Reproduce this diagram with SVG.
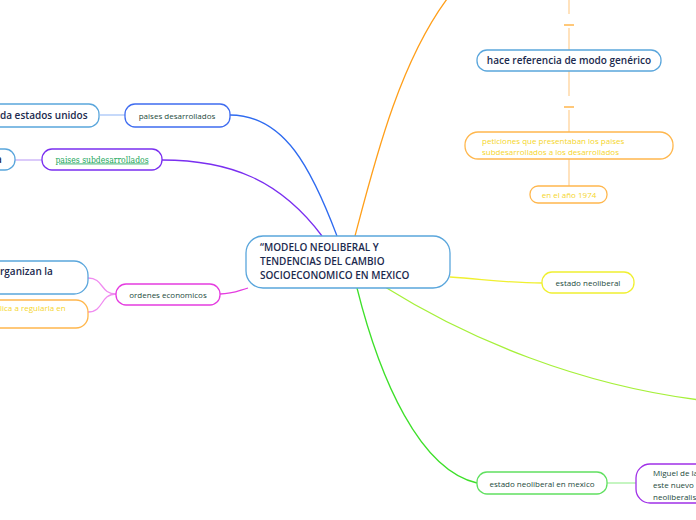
<svg xmlns="http://www.w3.org/2000/svg" width="696" height="520" viewBox="0 0 696 520">
<style>
text{font-family:"Open Sans","Noto Sans",sans-serif;}
.n{fill:#fff;stroke-width:1.3;}
.c{fill:none;stroke-width:1.3;}
.t{fill:#1d4a3c;font-size:8px;}
.b{fill:#1b2a4e;font-size:10px;font-weight:600;}
.y{fill:#f5d52a;font-size:8px;}
</style>
<g id="connectors">
<path class="c" d="M355,236 C375,160 400,60 450,-5" stroke="#ff9f1a"/>
<path class="c" d="M337,236 C312,170 285,115 230,115" stroke="#2f6bf0"/>
<path class="c" d="M322,236 C280,180 230,160 162,160" stroke="#7a2ff0"/>
<path class="c" d="M248,288 C235,292 232,294 220,294" stroke="#e53ce0"/>
<path class="c" d="M116,294 C100,294 104,278 88,278" stroke="#f08cf0" stroke-width="1"/>
<path class="c" d="M116,294 C100,294 104,312 88,312" stroke="#f08cf0" stroke-width="1"/>
<path class="c" d="M450,277 C490,280 510,283 542,283" stroke="#f0f030" stroke-width="1"/>
<path class="c" d="M385,287 C470,340 580,385 700,400" stroke="#a6f03a"/>
<path class="c" d="M357,288 C380,380 420,470 477,483" stroke="#3ee02a"/>
<path class="c" d="M100,115 H125" stroke="#a8c4f8"/>
<path class="c" d="M15,160 H42" stroke="#c8aef8"/>
<path class="c" d="M607,483 H636" stroke="#a6f0a0"/>
<path class="c" d="M569,0 V14 M569,28 V50 M569,71 V96 M569,110 V132 M569,159 V186" stroke="#ffd39a" stroke-width="1"/>
<path class="c" d="M564,25 H574 M564,107 H574" stroke="#ffb74d" stroke-width="1.5"/>
</g>
<g id="center">
<rect class="n" x="246" y="236" width="204" height="52" rx="17" stroke="#5aa6dc"/>
<text class="b" x="260" y="251">“MODELO NEOLIBERAL Y</text>
<text class="b" x="260" y="265">TENDENCIAS DEL CAMBIO</text>
<text class="b" x="260" y="279">SOCIOECONOMICO EN MEXICO</text>
</g>
<g id="hace">
<rect class="n" x="477" y="50" width="184" height="21" rx="10" stroke="#5aa6dc"/>
<text class="b" x="569" y="64" text-anchor="middle">hace referencia de modo genérico</text>
</g>
<g id="peticiones">
<rect class="n" x="465" y="132" width="208" height="27" rx="13" stroke="#ffb74d"/>
<text class="y" x="482" y="144">peticiones que presentaban los paises</text>
<text class="y" x="482" y="155">subdesarrollados a los desarrollados</text>
</g>
<g id="anio">
<rect class="n" x="530" y="186" width="77" height="17" rx="8" stroke="#ffb74d"/>
<text class="y" x="569" y="198" text-anchor="middle">en el año 1974</text>
</g>
<g id="desarrollados">
<rect class="n" x="125" y="104" width="105" height="23" rx="10" stroke="#3f6cf0"/>
<text class="t" x="177" y="118.5" text-anchor="middle">paises desarrollados</text>
</g>
<g id="eeuu">
<rect class="n" x="-20" y="104" width="119" height="23" rx="10" stroke="#5aa6dc"/>
<text class="b" x="0" y="119">da estados unidos</text>
</g>
<g id="subdesarrollados">
<rect class="n" x="42" y="149" width="120" height="21" rx="10" stroke="#7a2ff0"/>
<text x="102" y="162.5" text-anchor="middle" font-size="8.5" fill="#1aa65a" text-decoration="underline" style="font-family:'DejaVu Serif Condensed','DejaVu Serif',serif">paises subdesarrollados</text>
</g>
<g id="sub-hijo">
<rect class="n" x="-20" y="149" width="35" height="21" rx="10" stroke="#5aa6dc"/>
<text class="b" x="-4" y="163">a</text>
</g>
<g id="ordenes">
<rect class="n" x="116" y="284" width="104" height="21" rx="10" stroke="#e53ce0"/>
<text class="t" x="168" y="298" text-anchor="middle">ordenes economicos</text>
</g>
<g id="organizan">
<rect class="n" x="-20" y="261" width="108" height="33" rx="14" stroke="#5aa6dc"/>
<text class="b" x="0" y="275">rganizan la</text>
</g>
<g id="regularla">
<rect class="n" x="-20" y="300" width="108" height="28" rx="12" stroke="#ffb74d"/>
<text class="y" x="0" y="311">lica a regularla en</text>
</g>
<g id="estado">
<rect class="n" x="542" y="272" width="92" height="21" rx="10" stroke="#f0f030"/>
<text class="t" x="588" y="286" text-anchor="middle">estado neoliberal</text>
</g>
<g id="mexico">
<rect class="n" x="477" y="472" width="130" height="22" rx="10" stroke="#60e060"/>
<text class="t" x="542" y="486.5" text-anchor="middle">estado neoliberal en mexico</text>
</g>
<g id="miguel">
<rect class="n" x="636" y="464" width="90" height="39" rx="14" stroke="#a030e8"/>
<text class="t" x="653" y="476">Miguel de la</text>
<text class="t" x="653" y="488">este nuevo</text>
<text class="t" x="653" y="500">neoliberalismo</text>
</g>
</svg>
